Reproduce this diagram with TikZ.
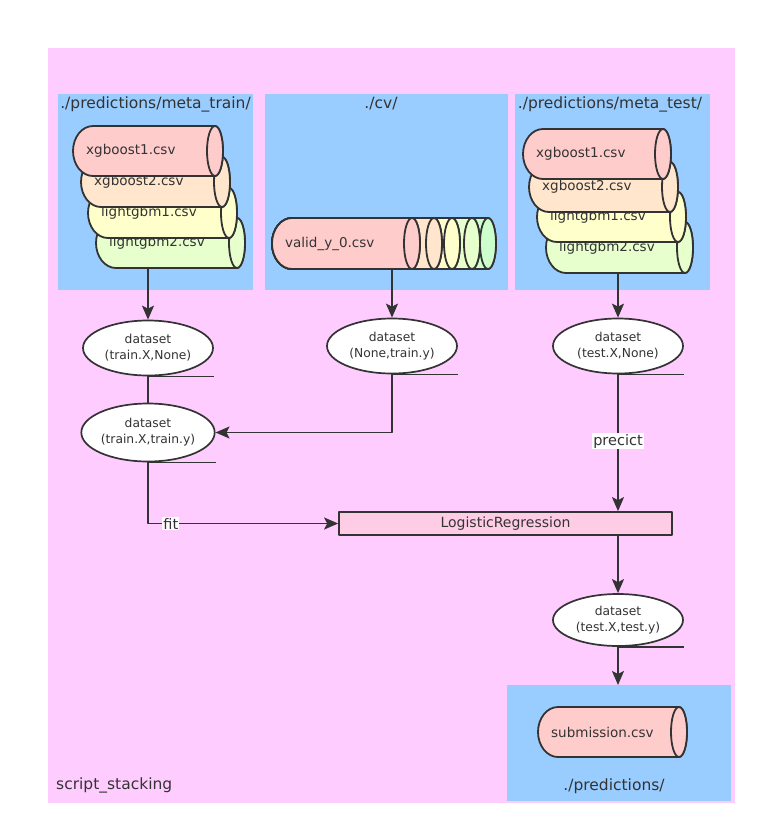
\documentclass[tikz,border=0pt]{standalone}
\usepackage{fontspec}
\setmainfont{DejaVu Sans}
\usetikzlibrary{arrows.meta,shapes.geometric}
\definecolor{bgpink}{HTML}{FFCCFF}
\definecolor{grpblue}{HTML}{99CCFF}
\definecolor{ln}{HTML}{333333}
\definecolor{cA}{HTML}{FFCCCC}
\definecolor{cB}{HTML}{FFE6CC}
\definecolor{cC}{HTML}{FFFFCC}
\definecolor{cD}{HTML}{E6FFCC}
\definecolor{cE}{HTML}{CCFFCC}
\definecolor{lrfill}{HTML}{FFCCE6}
\definecolor{txt}{HTML}{333333}

\tikzset{
  area/.style={draw=none, anchor=north west, inner sep=0pt, outer sep=0pt},
  grp/.style={area, fill=grpblue},
  glabel/.style={font=\fontsize{15.5}{17}\selectfont, text=txt, inner sep=0pt},
  cyl/.style={draw=ln, line width=1.8pt},
  cyltext/.style={font=\fontsize{13.5}{15}\selectfont, text=txt, inner sep=0pt},
  dsnode/.style={ellipse, draw=ln, line width=1.7pt, fill=white, minimum width=130pt, minimum height=55pt, inner sep=0pt, align=center, text=txt, font=\fontsize{12.3}{16}\selectfont},
  lrbox/.style={rectangle, draw=ln, line width=1.7pt, fill=lrfill, minimum width=333pt, minimum height=23pt, inner sep=0pt, text=txt, font=\fontsize{14}{15}\selectfont},
  conn/.style={draw=ln, line width=1.7pt},
  arr/.style={conn, -{Stealth[length=14pt,width=12pt,inset=3pt]}},
  elabel/.style={fill=white, inner sep=1pt, text=txt, font=\fontsize{14.5}{16}\selectfont},
}

\newcommand{\hcyl}[7]{%
 \pgfmathsetmacro{\cylw}{#4-#2}%
 \pgfmathsetmacro{\cylh}{#5-#3}%
 \pgfmathsetmacro{\cylhh}{\cylh/2}%
 \begin{scope}[shift={(#2,-#3)}]
  \filldraw[cyl,fill=#6] (\cylw-8,0) -- (20,0) arc[start angle=90,end angle=270,x radius=20pt,y radius=\cylhh pt] -- (\cylw-8,-\cylh) arc[start angle=-90,end angle=90,x radius=8pt,y radius=\cylhh pt] -- cycle;
  \filldraw[cyl,fill=#6] (\cylw-8,-\cylhh) ellipse[x radius=8pt,y radius=\cylhh pt];
  \node[cyltext,anchor=west] (#1) at (13,-\cylhh) {#7};
 \end{scope}}

\begin{document}
\begin{tikzpicture}[x=1pt,y=1pt,line join=round]
\fill[white] (0,0) rectangle (767,-836);
\useasboundingbox (0,0) rectangle (767,-836);

% outer container
\node[area, fill=bgpink, minimum width=687pt, minimum height=755pt] (main) at (48,-48) {};
\node[glabel, anchor=west] (mainlabel) at (56,-785) {script\_stacking};

% groups
\node[grp, minimum width=195pt, minimum height=196pt] (g1) at (58,-94) {};
\node[grp, minimum width=243pt, minimum height=196pt] (g2) at (265,-94) {};
\node[grp, minimum width=195pt, minimum height=196pt] (g3) at (515,-94) {};
\node[grp, minimum width=224pt, minimum height=116pt] (g4) at (507,-685) {};

\node[glabel] (g1l) at (155.5,-104) {./predictions/meta\_train/};
\node[glabel] (g2l) at (381,-104) {./cv/};
\node[glabel] (g3l) at (610,-104) {./predictions/meta\_test/};
\node[glabel] (g4l) at (614,-786) {./predictions/};

% group 1 cylinders
\hcyl{tr4}{96}{218}{245}{268}{cD}{lightgbm2.csv}
\hcyl{tr3}{88}{188}{237}{238}{cC}{lightgbm1.csv}
\hcyl{tr2}{81}{157}{230}{207}{cB}{xgboost2.csv}
\hcyl{tr1}{73}{126}{223}{176}{cA}{xgboost1.csv}

% group 2 cylinders
\hcyl{cv5}{272}{218}{496}{269}{cE}{}
\hcyl{cv4}{272}{218}{480}{269}{cD}{}
\hcyl{cv3}{272}{218}{460}{269}{cC}{}
\hcyl{cv2}{272}{218}{442}{269}{cB}{}
\hcyl{cv1}{272}{218}{420}{269}{cA}{valid\_y\_0.csv}

% group 3 cylinders
\hcyl{te4}{546}{222}{693}{273}{cD}{lightgbm2.csv}
\hcyl{te3}{537}{192}{686}{242}{cC}{lightgbm1.csv}
\hcyl{te2}{529}{162}{678}{212}{cB}{xgboost2.csv}
\hcyl{te1}{523}{129}{671}{179}{cA}{xgboost1.csv}

% group 4
\hcyl{sub}{538}{707}{687}{757}{cA}{submission.csv}

% dataset nodes
\node[dsnode] (e1) at (148,-348) {dataset\\(train.X,None)};
\node[dsnode, minimum height=58pt] (e2) at (148,-432.5) {dataset\\(train.X,train.y)};
\node[dsnode] (e3) at (392,-346) {dataset\\(None,train.y)};
\node[dsnode] (e4) at (618,-346) {dataset\\(test.X,None)};
\node[dsnode, minimum height=52pt] (e5) at (618,-620) {dataset\\(test.X,test.y)};

\foreach \e in {e1,e2,e3,e4,e5}{
  \draw[conn] (\e.south) -- (\e.south -| \e.east);
}

\node[lrbox] (lr) at (505.5,-523.5) {LogisticRegression};

% connectors
\coordinate (s1) at (148,-268);
\coordinate (s2) at (392,-269);
\coordinate (s3) at (618,-273);
\draw[arr] (s1) -- (e1.north);
\draw[arr] (s2) -- (e3.north);
\draw[arr] (s3) -- (e4.north);
\draw[conn] (e1.south) -- (e2.north);
\draw[arr] (e3.south) |- (e2.east);
\draw[arr] (e2.south) |- node[elabel, pos=0.56] {fit} (lr.west);
\draw[arr] (e4.south) -- node[elabel, pos=0.49] {precict} (e4.south |- lr.north);
\draw[arr] (lr.south -| e5.north) -- (e5.north);
\draw[arr] (e5.south) -- (e5.south |- g4.north);
\end{tikzpicture}
\end{document}
